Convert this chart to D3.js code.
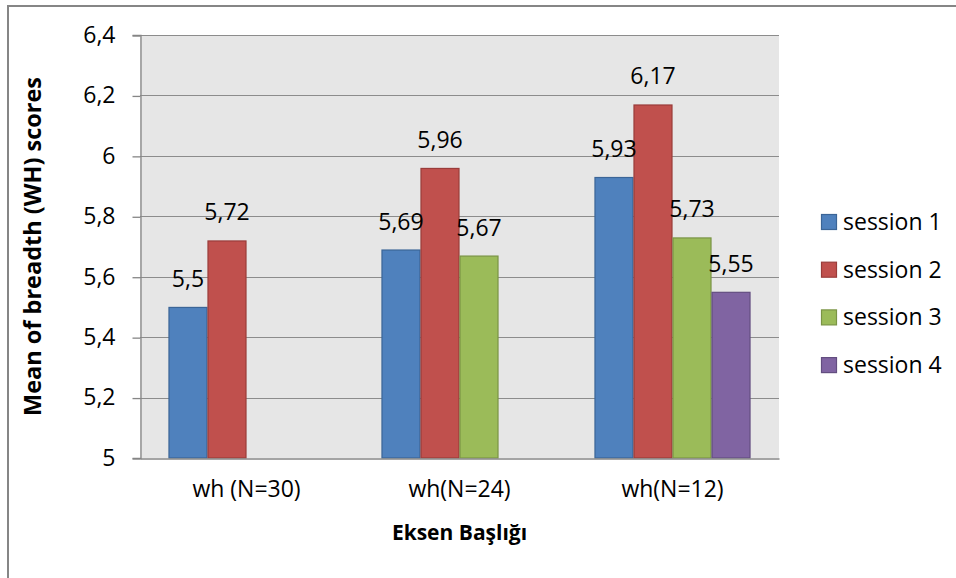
<!DOCTYPE html>
<html>
<head>
<meta charset="utf-8">
<script src="https://cdn.jsdelivr.net/npm/d3@7"></script>
<style>
  html, body { margin: 0; padding: 0; background: #fff; }
  svg { display: block; font-family: "Open Sans", sans-serif; }
</style>
</head>
<body>
<svg id="chart" width="956" height="578"></svg>
<script>
// ---- data ----
const categories = ["wh (N=30)", "wh(N=24)", "wh(N=12)"];
const seriesNames = ["session 1", "session 2", "session 3", "session 4"];
const session1 = [5.5, 5.69, 5.93];
const session2 = [5.72, 5.96, 6.17];
const session3 = [null, 5.67, 5.73];
const session4 = [null, null, 5.55];
const yTicks = [5, 5.2, 5.4, 5.6, 5.8, 6, 6.2, 6.4];
const yTitle = "Mean of breadth (WH) scores";
const xTitle = "Eksen Başlığı";

const seriesValues = [session1, session2, session3, session4];
const fills = ["#4F81BD", "#C0504D", "#9BBB59", "#8064A2"];
const strokes = ["#3B6597", "#9A3C3A", "#7A9445", "#634E80"];

const fmt = v => String(v).replace(".", ",");

const svg = d3.select("#chart");

// outer chart border
svg.append("rect")
  .attr("x", 8).attr("y", 6).attr("width", 960).attr("height", 600)
  .attr("fill", "#fff").attr("stroke", "#868686").attr("stroke-width", 2);

const plot = { left: 140, right: 779, top: 35, bottom: 458 };

const y = d3.scaleLinear().domain([5, 6.4]).range([plot.bottom, plot.top]);
const x0 = d3.scaleBand().domain(categories).range([plot.left, plot.right]).padding(0);
const x1 = d3.scaleBand().domain(seriesNames).range([0, x0.bandwidth()]).paddingInner(0).paddingOuter(0.73);

// plot background
svg.append("rect")
  .attr("x", plot.left).attr("y", plot.top)
  .attr("width", plot.right - plot.left).attr("height", plot.bottom - plot.top)
  .attr("fill", "#E6E6E6");

// gridlines
svg.append("g").selectAll("line").data(yTicks.filter(t => t !== 5)).join("line")
  .attr("x1", plot.left).attr("x2", plot.right)
  .attr("y1", d => Math.round(y(d)) + 0.5).attr("y2", d => Math.round(y(d)) + 0.5)
  .attr("stroke", "#8C8C8C").attr("stroke-width", 1.2);

// y axis
const yAxis = d3.axisLeft(y).tickValues(yTicks).tickSize(8).tickPadding(17).tickFormat(fmt);
const gy = svg.append("g").attr("transform", `translate(${plot.left + 0.5},0)`).call(yAxis);
gy.select(".domain").attr("stroke", "#868686").attr("stroke-width", 1.3);
gy.selectAll(".tick line").attr("stroke", "#868686").attr("stroke-width", 1.3)
  .attr("transform", "translate(0,0.5)");
gy.selectAll(".tick text").attr("font-family", '"Open Sans", sans-serif')
  .attr("font-size", 23).attr("fill", "#000");

// bars
const data = [];
categories.forEach((c, i) => {
  seriesNames.forEach((s, j) => {
    const v = seriesValues[j][i];
    if (v != null) data.push({ cat: c, series: s, j, v });
  });
});

const bars = svg.append("g");
bars.selectAll("rect").data(data).join("rect")
  .attr("x", d => x0(d.cat) + x1(d.series) + 0.5)
  .attr("y", d => y(d.v) + 0.5)
  .attr("width", x1.bandwidth() - 1)
  .attr("height", d => y(5) - y(d.v) - 0.5)
  .attr("fill", d => fills[d.j])
  .attr("stroke", d => strokes[d.j]).attr("stroke-width", 1.2);

// data labels
svg.append("g").selectAll("text").data(data).join("text")
  .attr("x", d => x0(d.cat) + x1(d.series) + x1.bandwidth() / 2)
  .attr("y", d => y(d.v) - 20)
  .attr("text-anchor", "middle")
  .attr("font-size", 23).attr("fill", "#000")
  .text(d => fmt(d.v));

// x axis line
const xAxis = d3.axisBottom(x0).tickSize(0).tickPadding(22);
const gx = svg.append("g").attr("transform", `translate(0,${plot.bottom + 0.5})`).call(xAxis);
gx.select(".domain").attr("stroke", "#868686").attr("stroke-width", 1.3);
gx.selectAll(".tick text").attr("font-family", '"Open Sans", sans-serif')
  .attr("font-size", 23).attr("fill", "#000");

// axis titles
svg.append("text")
  .attr("x", (plot.left + plot.right) / 2).attr("y", 540)
  .attr("text-anchor", "middle").attr("font-weight", "bold").attr("font-size", 21)
  .text(xTitle);

svg.append("text")
  .attr("transform", `translate(41,${(plot.top + plot.bottom) / 2}) rotate(-90)`)
  .attr("text-anchor", "middle").attr("font-weight", "bold").attr("font-size", 23.5)
  .text(yTitle);

// legend
const legend = svg.append("g");
const lg = legend.selectAll("g").data(seriesNames).join("g")
  .attr("transform", (d, i) => `translate(821,${222 + i * 47.7})`);
lg.append("rect")
  .attr("x", 0.5).attr("y", -7.5).attr("width", 15).attr("height", 15)
  .attr("fill", (d, i) => fills[i]).attr("stroke", (d, i) => strokes[i]).attr("stroke-width", 1.2);
lg.append("text")
  .attr("x", 22).attr("y", 0).attr("dy", "0.35em")
  .attr("font-size", 23).attr("fill", "#000")
  .text(d => d);
</script>
</body>
</html>
